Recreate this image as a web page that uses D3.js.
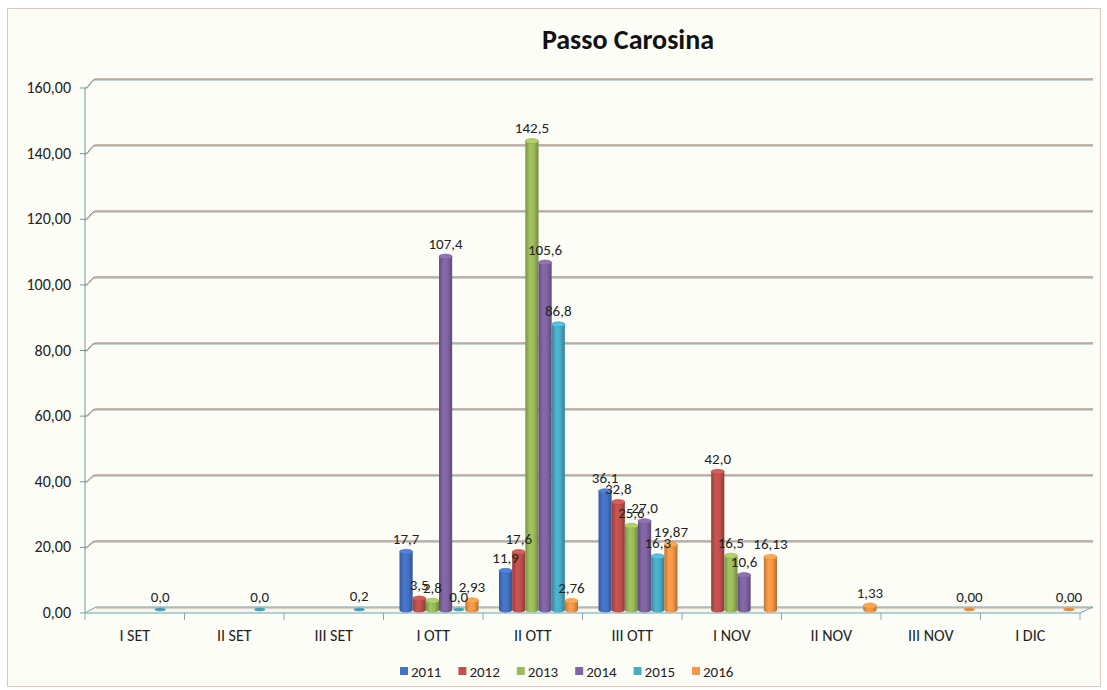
<!DOCTYPE html>
<html>
<head>
<meta charset="utf-8">
<script src="https://cdn.jsdelivr.net/npm/d3@7"></script>
<style>
  html, body { margin: 0; padding: 0; background: #ffffff; }
  svg { display: block; }
  text { font-family: Calibri, Carlito, Lato, "Open Sans", sans-serif; }
</style>
</head>
<body>
<svg id="chart" width="1107" height="690"></svg>
<script>
// ---------- data ----------
const title = "Passo Carosina";
const categories = ["I SET", "II SET", "III SET", "I OTT", "II OTT", "III OTT", "I NOV", "II NOV", "III NOV", "I DIC"];
const years = ["2011", "2012", "2013", "2014", "2015", "2016"];
const values2011 = [null, null, null, 17.7, 11.9, 36.1, null, null, null, null];
const values2012 = [null, null, null, 3.5, 17.6, 32.8, 42.0, null, null, null];
const values2013 = [null, null, null, 2.8, 142.5, 25.6, 16.5, null, null, null];
const values2014 = [null, null, null, 107.4, 105.6, 27.0, 10.6, null, null, null];
const values2015 = [0.0, 0.0, 0.2, 0.0, 86.8, 16.3, null, null, null, null];
const values2016 = [null, null, null, 2.93, 2.76, 19.87, 16.13, 1.33, 0.00, 0.00];
const labelDecimals = [1, 1, 1, 1, 1, 2];
const yTicks = [0, 20, 40, 60, 80, 100, 120, 140, 160];
const colors = ["#4472C4", "#C0504D", "#9BBB59", "#8064A2", "#4BACC6", "#F79646"];

const seriesValues = [values2011, values2012, values2013, values2014, values2015, values2016];

// ---------- layout ----------
const svg = d3.select("#chart");
const W = 1107, H = 690;

svg.append("rect").attr("x", 0).attr("y", 0).attr("width", W).attr("height", H).attr("fill", "#ffffff");
svg.append("rect").attr("x", 7.5).attr("y", 8.5).attr("width", 1093).attr("height", 678)
  .attr("fill", "#fdfdf8").attr("stroke", "#d9c9c2").attr("stroke-width", 1);

svg.append("text").attr("x", 628).attr("y", 49).attr("text-anchor", "middle")
  .attr("font-size", 28).attr("font-weight", "bold").attr("fill", "#111").text(title);

const x = d3.scaleBand().domain(categories).range([85, 1080]).padding(0);
const xs = d3.scaleBand().domain(years).range([11, 90]).padding(0);
const yFront = d3.scaleLinear().domain([0, 160]).range([613, 88]);
const yBack = d3.scaleLinear().domain([0, 160]).range([607, 79]);
const yMid = v => (yFront(v) + yBack(v)) / 2;

const fmtTick = v => d3.format(".2f")(v).replace(".", ",");

// gridlines (back wall + left wall diagonal)
const grid = svg.append("g");
yTicks.filter(t => t > 0).forEach(t => {
  const yf = yFront(t), yb = yBack(t);
  const pathD = `M${85},${yf} C${89},${yf} ${91},${yb} ${96},${yb} L${1093},${yb}`;
  grid.append("path").attr("d", pathD).attr("fill", "none").attr("stroke", "#86bcbc").attr("stroke-width", 0.8)
    .attr("transform", "translate(0,1.2)");
  grid.append("path").attr("d", pathD).attr("fill", "none").attr("stroke", "#9c6a5c").attr("stroke-width", 1);
});

// floor
svg.append("path")
  .attr("d", `M85,${yFront(0)} L1080,${yFront(0)} L1093,${yBack(0)} L96,${yBack(0)} Z`)
  .attr("fill", "#f4f7f2").attr("stroke", "#6aa9a9").attr("stroke-width", 1);
svg.append("line").attr("x1", 96).attr("x2", 1093).attr("y1", yBack(0) + 1).attr("y2", yBack(0) + 1)
  .attr("stroke", "#c29a8a").attr("stroke-width", 0.8);

// y axis
svg.append("line").attr("x1", 85).attr("x2", 85).attr("y1", yFront(160)).attr("y2", yFront(0))
  .attr("stroke", "#6a9f9f").attr("stroke-width", 1);
const yAx = svg.append("g");
yTicks.forEach(t => {
  yAx.append("line").attr("x1", 80).attr("x2", 85).attr("y1", yFront(t)).attr("y2", yFront(t))
    .attr("stroke", "#6a9f9f");
  yAx.append("text").attr("x", 71).attr("y", yFront(t) + 5).attr("text-anchor", "end")
    .attr("font-size", 16).attr("fill", "#222").text(fmtTick(t));
});

// x axis ticks and labels
const xAx = svg.append("g");
const bounds = categories.map(c => x(c)).concat([x(categories[categories.length - 1]) + x.bandwidth()]);
bounds.forEach(b => {
  xAx.append("line").attr("x1", b).attr("x2", b).attr("y1", yFront(0)).attr("y2", yFront(0) + 7)
    .attr("stroke", "#8aa8a8");
});
categories.forEach(c => {
  xAx.append("text").attr("x", x(c) + x.bandwidth() / 2).attr("y", 641).attr("text-anchor", "middle")
    .attr("font-size", 16).attr("fill", "#222").text(c);
});

// gradients
const defs = svg.append("defs");
colors.forEach((col, i) => {
  const g = defs.append("linearGradient").attr("id", "grad" + i).attr("x1", "0").attr("x2", "1").attr("y1", "0").attr("y2", "0");
  const base = d3.color(col);
  g.append("stop").attr("offset", "0%").attr("stop-color", base.darker(0.7));
  g.append("stop").attr("offset", "35%").attr("stop-color", base.brighter(0.15));
  g.append("stop").attr("offset", "65%").attr("stop-color", base);
  g.append("stop").attr("offset", "100%").attr("stop-color", base.darker(0.9));
});

// bars
const bars = svg.append("g");
const labels = svg.append("g");
const bw = xs.bandwidth();
const ry = 2.5;
years.forEach((yr, si) => {
  const vals = seriesValues[si];
  categories.forEach((c, ci) => {
    const v = vals[ci];
    if (v === null || v === undefined) return;
    const bx = x(c) + xs(yr) + 5;
    const cx = bx + bw / 2;
    const top = yMid(v);
    const bottom = yMid(0);
    const col = d3.color(colors[si]);
    if (v > 0.5) {
      bars.append("path")
        .attr("d", `M${bx},${top} L${bx},${bottom} A${bw / 2},${ry} 0 0 0 ${bx + bw},${bottom} L${bx + bw},${top} Z`)
        .attr("fill", `url(#grad${si})`);
      bars.append("ellipse").attr("cx", cx).attr("cy", top).attr("rx", bw / 2).attr("ry", ry)
        .attr("fill", col.brighter(0.35)).attr("stroke", col.darker(0.3)).attr("stroke-width", 0.6);
    } else {
      bars.append("ellipse").attr("cx", cx).attr("cy", bottom - 0.5).attr("rx", bw / 2 - 1).attr("ry", 1.8)
        .attr("fill", col.darker(0.2));
    }
    const txt = d3.format("." + labelDecimals[si] + "f")(v).replace(".", ",");
    labels.append("text").attr("x", cx).attr("y", top - 8).attr("text-anchor", "middle")
      .attr("font-size", 15).attr("fill", "#222").text(txt);
  });
});

// legend
const lx = d3.scalePoint().domain(years).range([400, 692]);
const leg = svg.append("g");
years.forEach((yr, i) => {
  leg.append("rect").attr("x", lx(yr)).attr("y", 667).attr("width", 8).attr("height", 8).attr("fill", colors[i]);
  leg.append("text").attr("x", lx(yr) + 11).attr("y", 677).attr("font-size", 15).attr("fill", "#222").text(yr);
});
</script>
</body>
</html>
